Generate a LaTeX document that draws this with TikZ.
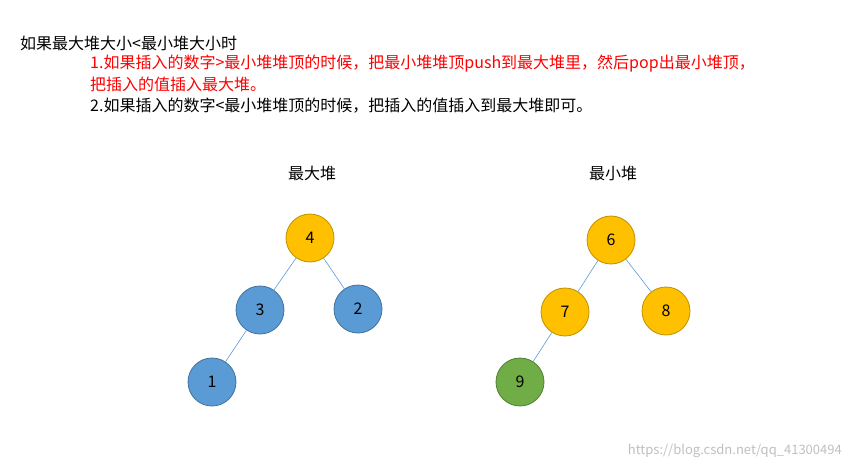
\documentclass[tikz,border=0pt]{standalone}
\usepackage{fontspec}
\setmainfont{Noto Sans CJK SC}
\begin{document}
\begin{tikzpicture}[x=1pt,y=-1pt,
  txt/.style={anchor=west,inner sep=0pt,font=\fontsize{16}{18}\selectfont},
  hv/.style={circle,minimum size=48pt,inner sep=0pt,line width=0.8pt,font=\fontsize{16}{18}\selectfont},
  yel/.style={hv,fill=yellow!60!orange!90!white,fill={rgb,255:red,255;green,192;blue,0},draw={rgb,255:red,191;green,144;blue,0}},
  blu/.style={hv,fill={rgb,255:red,91;green,155;blue,213},draw={rgb,255:red,65;green,113;blue,156}},
  grn/.style={hv,fill={rgb,255:red,112;green,173;blue,71},draw={rgb,255:red,80;green,126;blue,50}},
  ed/.style={draw={rgb,255:red,91;green,155;blue,213},line width=0.6pt}]
\useasboundingbox (0,0) rectangle (850,468);
\node[txt] (t0) at (20,43) {如果最大堆大小<最小堆大小时};
\node[txt,red] (t1) at (90,64) {1.如果插入的数字>最小堆堆顶的时候，把最小堆堆顶push到最大堆里，然后pop出最小堆顶，};
\node[txt,red] (t2) at (90,84) {把插入的值插入最大堆。};
\node[txt] (t3) at (90,106) {2.如果插入的数字<最小堆堆顶的时候，把插入的值插入到最大堆即可。};
\node[txt,anchor=center] (h1) at (312,173) {最大堆};
\node[txt,anchor=center] (h2) at (613,173) {最小堆};
\node[yel] (n4) at (310,238) {4};
\node[blu] (n3) at (260,310) {3};
\node[blu] (n2) at (358,309) {2};
\node[blu] (n1) at (212,382) {1};
\node[yel] (n6) at (611,240) {6};
\node[yel] (n7) at (565,312) {7};
\node[yel] (n8) at (666,311) {8};
\node[grn] (n9) at (520,382) {9};
\draw[ed] (n4)--(n3); \draw[ed] (n4)--(n2); \draw[ed] (n3)--(n1);
\draw[ed] (n6)--(n7); \draw[ed] (n6)--(n8); \draw[ed] (n7)--(n9);
\node[anchor=east,inner sep=0pt,text=black!25,font=\fontsize{13}{15}\selectfont] (wm) at (842,451) {https://blog.csdn.net/qq\_41300494};
\end{tikzpicture}
\end{document}
